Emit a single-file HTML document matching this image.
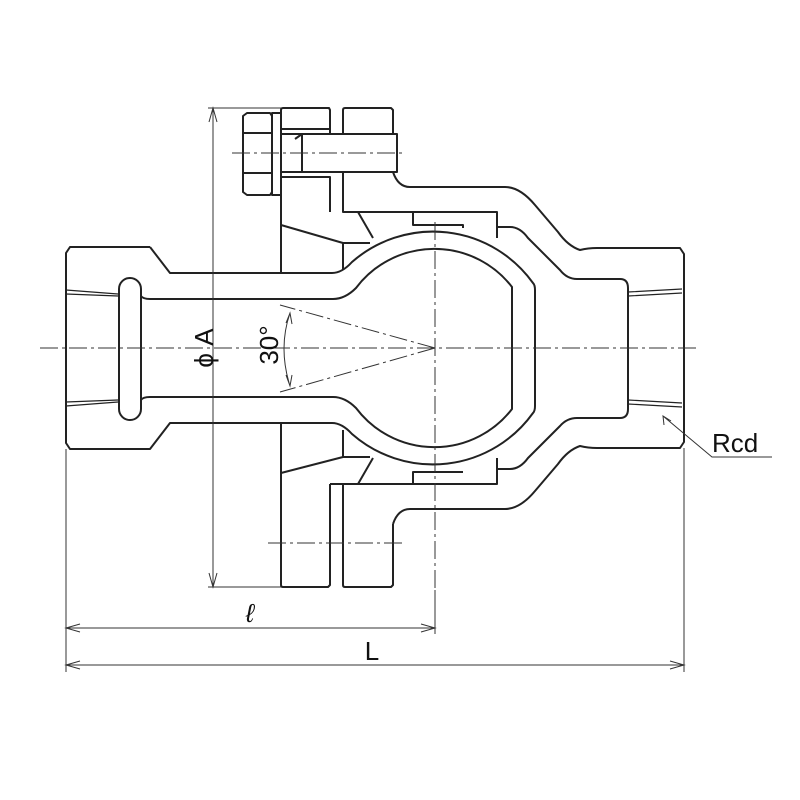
<!DOCTYPE html>
<html><head><meta charset="utf-8"><style>html,body{margin:0;padding:0;background:#fff}svg{display:block}</style></head>
<body>
<svg width="800" height="800" viewBox="0 0 800 800" xmlns="http://www.w3.org/2000/svg">
<g fill="none" stroke="#222" stroke-width="2" stroke-linejoin="round">
<!-- left end -->
<path d="M150 247 L70 247 L66 253 L66 443 L70 449 L150 449 L170 423 L282 423"/>
<path d="M150 247 L170 273 L282 273"/>
<rect x="119" y="278" width="22" height="142" rx="11"/>
<path d="M141 296 Q143 299 150 299 L333 299 Q345 299 356 288 A98 98 0 0 1 512 287 L512 409 A98 98 0 0 1 356 408 Q345 397 333 397 L150 397 Q143 397 141 400"/>
<path d="M282 273 L332 273 Q342 273 352 262 A123 123 0 0 1 533 283 Q535 285 535 290 L535 406 Q535 411 533 413 A123 123 0 0 1 352 434 Q342 423 332 423 L282 423"/>
<path d="M66 290 L118 294 M66 294 L118 296 M66 406 L118 402 M66 402 L118 400" stroke-width="1.2"/>
<!-- top flange & bolt -->
<path d="M243 116 L247 113 L270 113 L272 116 L272 192 L270 195 L247 195 L243 192 Z"/>
<path d="M244 133 L272 133 M244 173 L272 173"/>
<rect x="272" y="113" width="9" height="82"/>
<path d="M283 108 L329 108 L330 110 L330 134 M281 110 Q281 108 283 108 M281 110 L281 273"/>
<path d="M343 134 L343 110 Q343 108 345 108 L391 108 L393 110 L393 134"/>
<path d="M281 134 L397 134 L397 172 L281 172 M302 134 L302 172 M302 134 L295 139 M281 129 L330 129"/>
<path d="M281 177 L330 177 L330 212 M343 172 L343 212 L497 212 L497 238"/>
<path d="M393 172 Q398 187 410 187 L505 187 Q520 187 535 205 L558 232 Q568 246 580 250 Q588 248 597 248 L680 248 L684 254 L684 442 L680 448 L597 448 Q588 448 580 446 Q568 450 558 464 L535 491 Q520 509 505 509 L410 509 Q398 509 393 524"/>
<path d="M497 227 L510 227 Q520 227 528 238 L560 270 Q567 279 577 279 L620 279 Q628 279 628 288 L628 409 Q628 418 620 418 L577 418 Q567 418 560 426 L528 458 Q520 469 510 469 L497 469"/>
<path d="M628 292 L682 289 M628 296 L682 293 M628 404 L682 407 M628 400 L682 403" stroke-width="1.2"/>
<path d="M281 225 L343 243 L370 243 M358 212 L373 238 M343 243 L343 270 M413 212 L413 225 L463 225 L463 228"/>
<!-- bottom flange -->
<path d="M281 423 L281 585 Q281 587 283 587 L328 587 L330 585 L330 484 M343 484 L343 585 Q343 587 345 587 L391 587 L393 585 L393 524"/>
<path d="M281 473 L343 457 L370 457 M358 484 L373 458 M330 484 L497 484 L497 458 M413 484 L413 472 L463 472"/>
<path d="M343 457 L343 430"/>
</g>
<!-- center lines -->
<g stroke="#333" stroke-width="1" stroke-dasharray="18 4 3 4" fill="none">
<path d="M40 348 L697 348"/>
<path d="M435 222 L435 590"/>
<path d="M232 153 L402 153"/>
<path d="M268 543 L402 543"/>
<path d="M435 348 L280 305 M435 348 L280 392"/>
</g>
<!-- dimensions -->
<g stroke="#333" stroke-width="1" fill="none">
<path d="M208 108 L281 108 M208 587 L281 587 M213 108 L213 587"/>
<path d="M209 122 L213 108 L217 122 M209 573 L213 587 L217 573"/>
<path d="M66 449 L66 672 M435 590 L435 634 M684 448 L684 672"/>
<path d="M66 628 L435 628 M66 665 L684 665"/>
<path d="M80 624 L66 628 L80 632 M421 624 L435 628 L421 632 M80 661 L66 665 L80 669 M670 661 L684 665 L670 669"/>
<path d="M290 313 Q278 348 290 386 M286 323 L290 313 L292 324 M286 375 L290 386 L292 375"/>
<path d="M663 416 L712 457 L772 457 M664 425 L663 416 L671 421"/>
</g>
<g font-family="Liberation Sans, sans-serif" fill="#111">
<text x="0" y="0" font-size="26" transform="translate(213 348) rotate(-90)" text-anchor="middle">ϕ A</text>
<text x="0" y="0" font-size="26" transform="translate(278 345) rotate(-90)" text-anchor="middle">30°</text>
<text x="250" y="622" font-size="26" font-style="italic" text-anchor="middle">ℓ</text>
<text x="372" y="660" font-size="26" text-anchor="middle">L</text>
<text x="712" y="452" font-size="26">Rcd</text>
</g>
</svg>
</body></html>
